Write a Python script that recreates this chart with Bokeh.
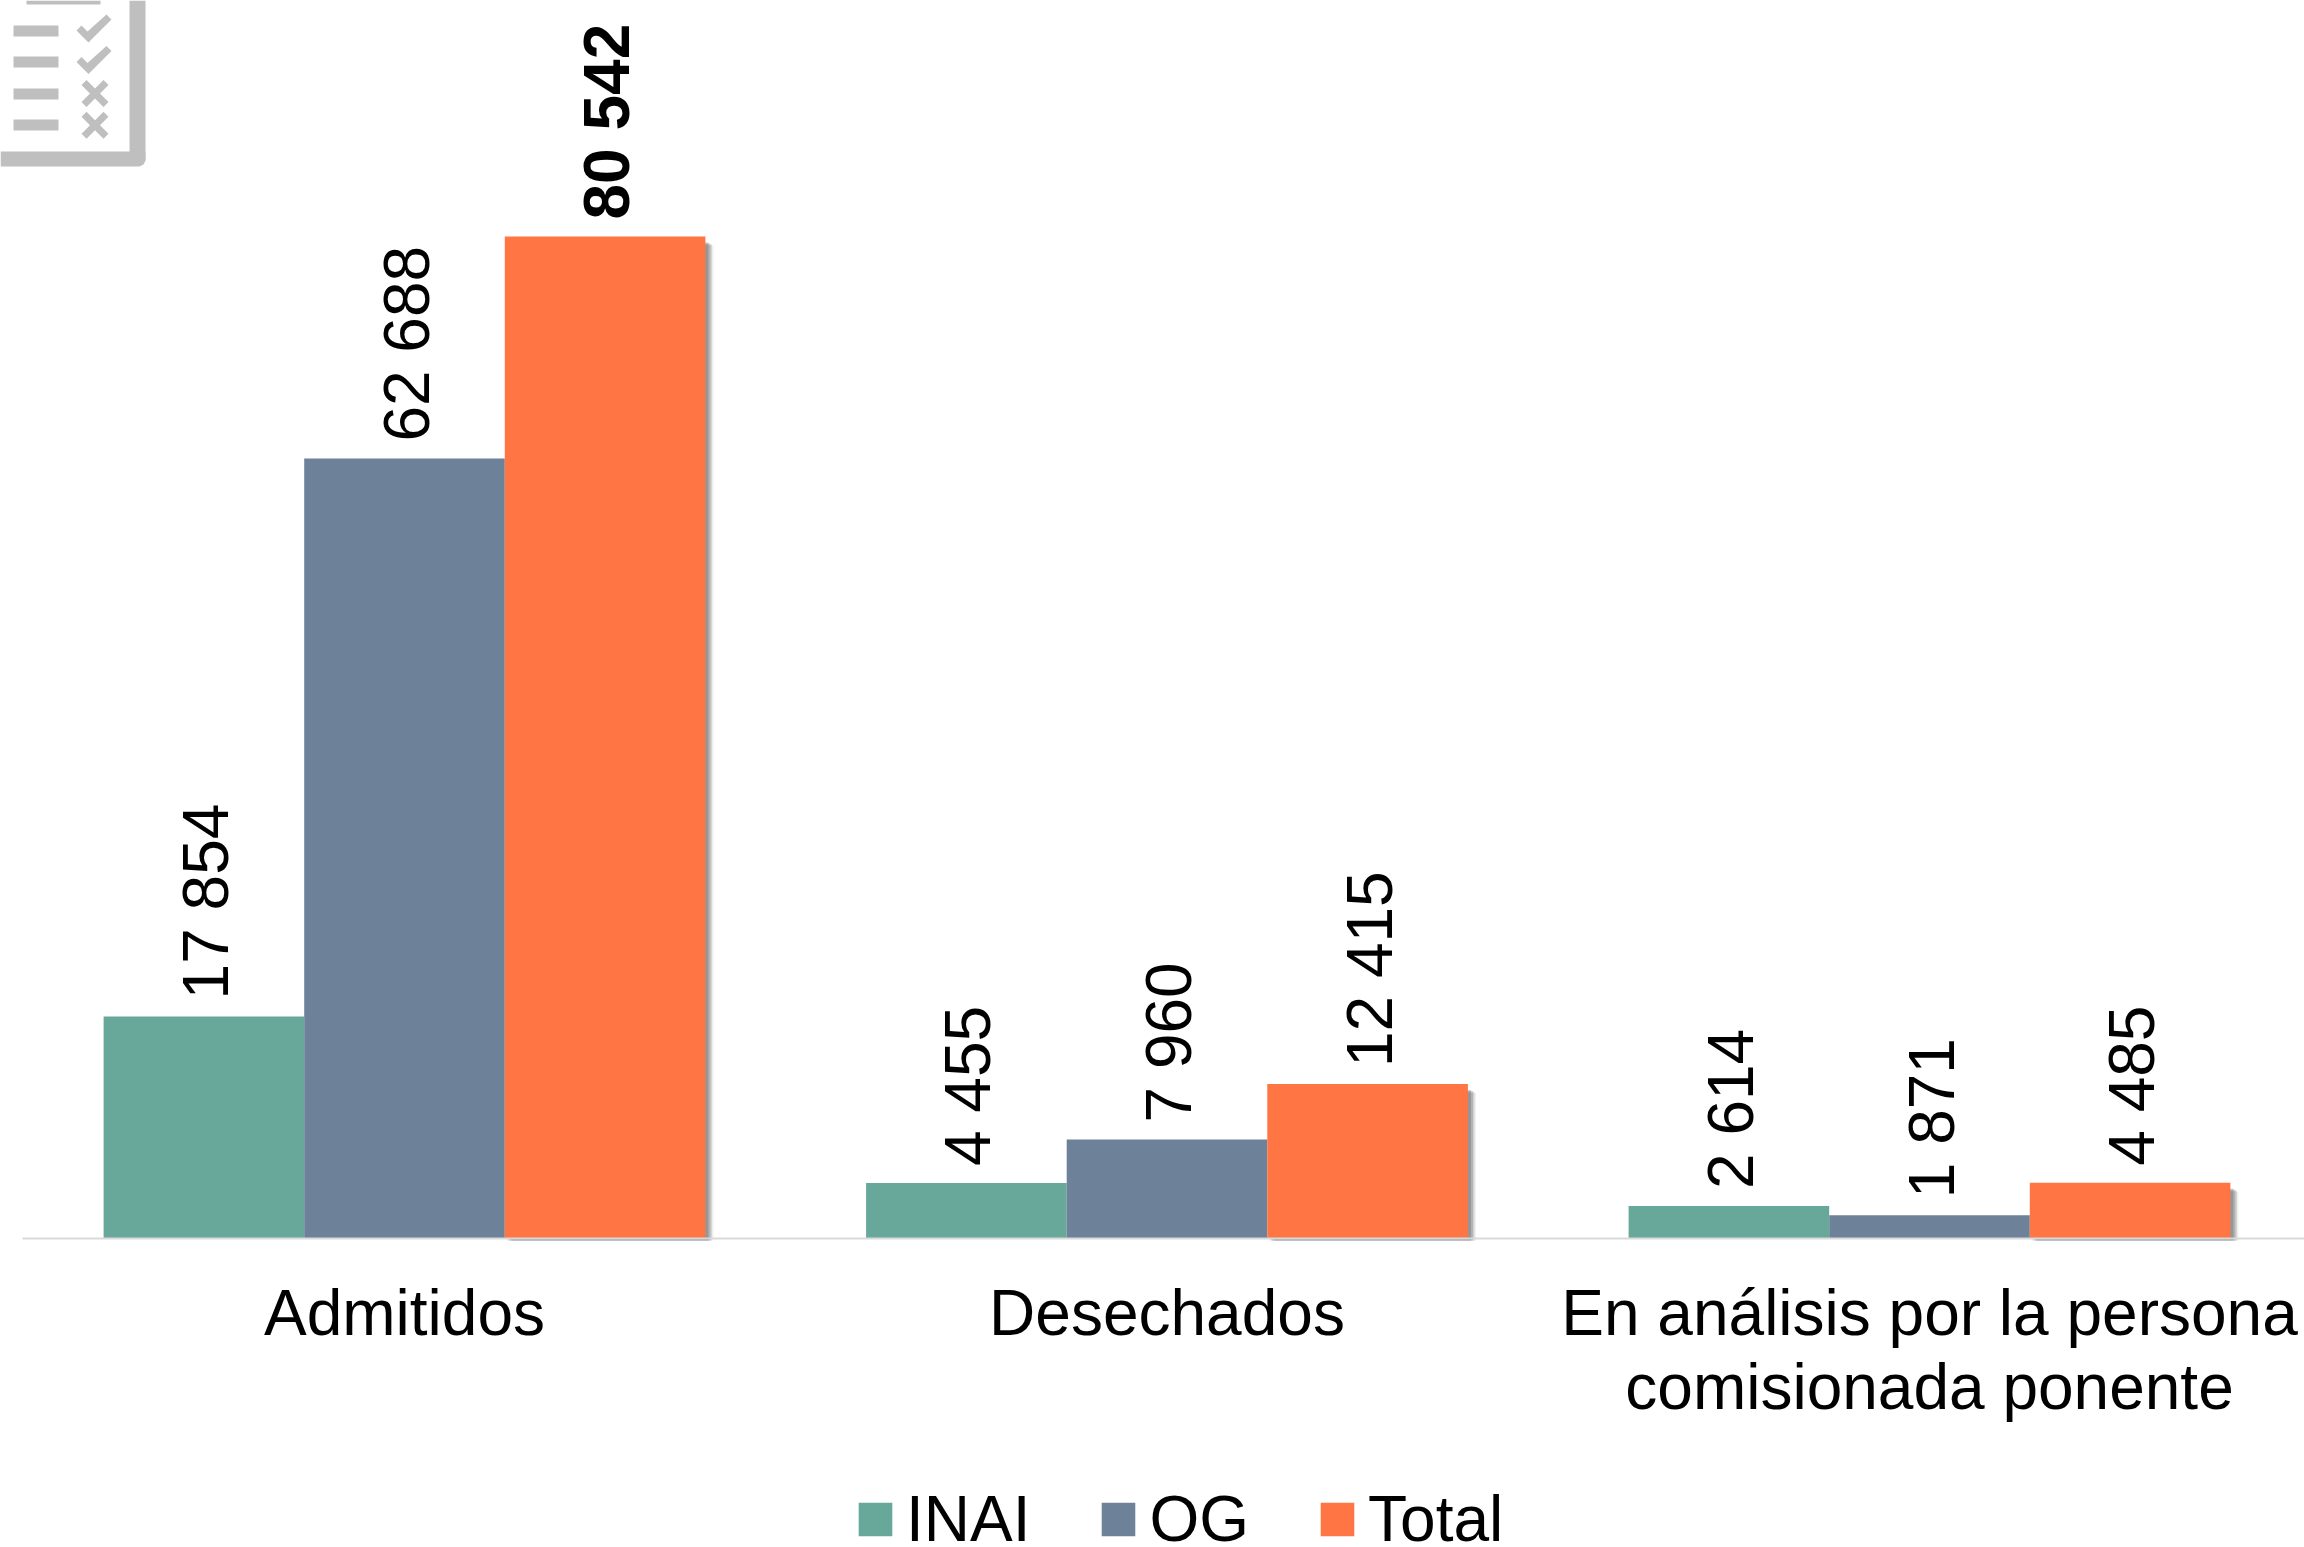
from bokeh.plotting import figure
from bokeh.embed import file_html
from bokeh.resources import INLINE
from bokeh.models import (ColumnDataSource, FixedTicker, Legend, LegendItem, PolyAnnotation, Range1d)
from bokeh.core.properties import value
import math

categories = ["Admitidos", "Desechados", "En análisis por la persona\ncomisionada ponente"]
series_names = ["INAI", "OG", "Total"]
inai = [17854, 4455, 2614]
og = [62688, 7960, 1871]
total = [80542, 12415, 4485]
colors = ["#68A89B", "#6D8299", "#FF7544"]
font_styles = [["normal"] * 3, ["normal"] * 3, ["bold", "normal", "normal"]]
all_series = [inai, og, total]

FONT = "Liberation Sans"
W, H = 2304, 1547
BASE = 1238          # pixel row of the baseline
PX_PER_UNIT = 1002 / 80542
GROUP_PX = 762.5
CENTER0 = 404
BAR = 200.6 / GROUP_PX

p = figure(width=W, height=H, output_backend="svg", toolbar_location=None,
           x_range=Range1d(-CENTER0 / GROUP_PX, (W - CENTER0) / GROUP_PX),
           y_range=Range1d(-(H - BASE) / PX_PER_UNIT, BASE / PX_PER_UNIT),
           min_border_left=0, min_border_right=0, min_border_top=0, min_border_bottom=0,
           outline_line_color=None, background_fill_color="white", border_fill_color="white")
p.grid.visible = False
p.yaxis.visible = False

ax = p.xaxis[0]
ax.fixed_location = 0
ax.ticker = FixedTicker(ticks=[0, 1, 2])
ax.major_label_overrides = {i: c for i, c in enumerate(categories)}
ax.major_label_text_font = FONT
ax.major_label_text_font_size = "64px"
ax.major_label_text_color = "#000000"
ax.major_label_text_line_height = 1.04
ax.major_label_standoff = 32
ax.major_tick_line_color = None
ax.minor_tick_line_color = None
ax.axis_line_color = "#D9D9D9"
ax.axis_line_width = 2
ax.bounds = ((22 - CENTER0) / GROUP_PX, (W - CENTER0) / GROUP_PX)

# soft shadow behind the Total bars
xs_total = [i + BAR for i in range(3)]
for dx, drop, alpha in [(8, 9, 0.10), (6.5, 8, 0.18), (5, 7, 0.25), (3, 6, 0.30)]:
    p.vbar(x=[x + dx / GROUP_PX for x in xs_total], width=BAR,
           top=[v - drop / PX_PER_UNIT for v in total], bottom=-2 / PX_PER_UNIT,
           fill_color="#555555", fill_alpha=alpha, line_color=None)

items = []
for k, (name, vals, col, fs) in enumerate(zip(series_names, all_series, colors, font_styles)):
    xs = [i + (k - 1) * BAR for i in range(3)]
    src = ColumnDataSource(dict(x=xs, top=vals,
                                label=[f"{v:,}".replace(",", " ") for v in vals], fs=fs))
    r = p.vbar(x="x", top="top", width=BAR, bottom=0, source=src, fill_color=col, line_color=None)
    p.text(x="x", y="top", text="label", source=src, angle=math.pi / 2,
           text_align="left", text_baseline="middle", text_font=value(FONT),
           text_font_size="64px", text_font_style="fs", text_color="#000000",
           y_offset=-17, x_offset=2)
    items.append(LegendItem(label=name, renderers=[r]))

leg = Legend(items=items, orientation="horizontal", location=(854, -9),
             border_line_color=None, background_fill_alpha=0, margin=0, padding=0,
             glyph_width=42, glyph_height=42, label_standoff=10, spacing=67,
             label_text_font=FONT, label_text_font_size="64px", label_text_color="#000000",
             label_height=42)
p.add_layout(leg, "center")

# decorative checklist icon in the top left corner (canvas pixels)
ICON = "#BFBFBF"
def poly(xs, ys):
    p.add_layout(PolyAnnotation(xs=xs, ys=ys, xs_units="canvas", ys_units="canvas",
                                fill_color=ICON, fill_alpha=1, line_color=None))
def rect(a, b, c, d):
    poly([a, c, c, a], [b, b, d, d])

rect(129, 0, 145, 160)
poly([0, 145, 145, 143, 139, 0], [151, 151, 160, 164, 166, 166])
rect(26, 0, 100, 4)
for y in [25, 56, 88, 119]:
    rect(13, y, 58, y + 11)
for dy in [0, 31.5]:
    poly([76, 81, 87, 106, 111, 88], [v + dy for v in [30, 25, 31, 14, 19, 42]])
for cy in [93, 124.7]:
    cx, a, t = 94.5, 13.5, 5
    poly([cx - a, cx - a + t, cx, cx + a - t, cx + a, cx + t, cx + a, cx + a - t, cx, cx - a + t, cx - a, cx - t],
         [cy - a + t, cy - a, cy - t, cy - a, cy - a + t, cy, cy + a - t, cy + a, cy + t, cy + a, cy + a - t, cy])

open("out.html", "w").write(file_html(p, INLINE))
